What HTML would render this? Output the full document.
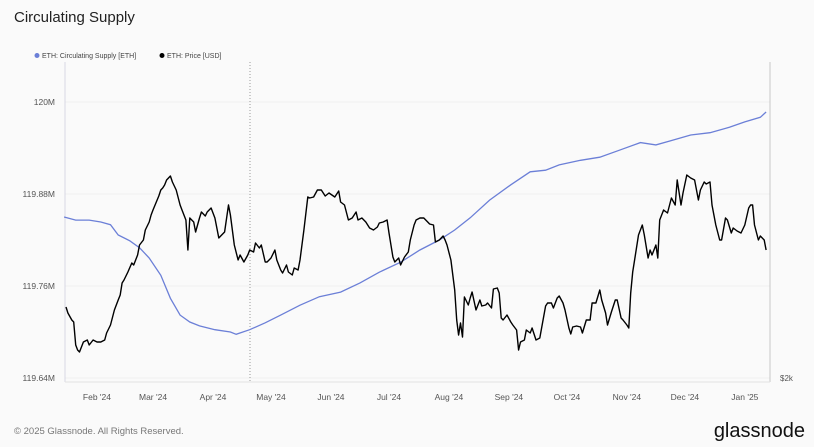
<!DOCTYPE html>
<html><head><meta charset="utf-8"><style>
body{margin:0;background:#fafafa;font-family:"Liberation Sans",sans-serif;}
svg{display:block}
</style></head><body>
<svg width="814" height="447" viewBox="0 0 814 447">
<rect x="0" y="0" width="814" height="447" fill="#fafafa"/>
<text x="14" y="22" font-size="15" fill="#222">Circulating Supply</text>
<g>
<g><circle cx="37" cy="55.5" r="2.5" fill="#6b7fd7"/><text x="42" y="58" font-size="7" fill="#444">ETH: Circulating Supply [ETH]</text></g>
<g><circle cx="162" cy="55.5" r="2.5" fill="#000"/><text x="167" y="58" font-size="7" fill="#444">ETH: Price [USD]</text></g>
</g>
<g id="grid"></g>
<line x1="65" y1="62" x2="65" y2="382" stroke="#d8d8e4"/>
<line x1="770" y1="62" x2="770" y2="382" stroke="#c8c8c8"/>
<line x1="65" y1="382" x2="770" y2="382" stroke="#e2e2e2"/>
<line x1="250" y1="62" x2="250" y2="382" stroke="#999" stroke-dasharray="1,2"/>
<g id="yticks"></g>
<g id="xticks"></g>
<text x="780" y="381" font-size="8" fill="#555">$2k</text>
<path id="supply" fill="none" stroke="#6b7fd7" stroke-width="1.3"/>
<path id="price" fill="none" stroke="#000" stroke-width="1.4" stroke-linejoin="round"/>
<text x="14" y="434" font-size="9.5" fill="#777">© 2025 Glassnode. All Rights Reserved.</text>
<text x="805" y="437" font-size="20" fill="#111" text-anchor="end" font-weight="500">glassnode</text>
</svg>
<script>
const yTickValues=[120,119.88,119.76,119.64];
const yTickLabels=["120M","119.88M","119.76M","119.64M"];
const xTickDays=[31,60,91,121,152,182,213,244,274,305,335,366];
const xTickLabels=["Feb '24","Mar '24","Apr '24","May '24","Jun '24","Jul '24","Aug '24","Sep '24","Oct '24","Nov '24","Dec '24","Jan '25"];
const supplyDays=[14,20,27,33,38,42,48,53,58,64,69,74,79,84,92,100,103,110,118,126,136,146,157,167,177,188,198,208,216,224,234,245,255,263,270,281,291,301,312,320,327,338,348,358,366,374,377];
const supplyValues=[119.850,119.846,119.846,119.8435,119.840,119.8265,119.819,119.810,119.7965,119.774,119.744,119.722,119.713,119.708,119.703,119.700,119.697,119.703,119.712,119.722,119.735,119.746,119.752,119.764,119.778,119.791,119.807,119.820,119.833,119.849,119.872,119.892,119.909,119.911,119.918,119.924,119.928,119.937,119.947,119.944,119.949,119.957,119.960,119.967,119.974,119.980,119.987];
const priceDays=[15,16,18,19,20,21,22,24,26,27,29,31,33,35,36,38,40,42,43,44,45,47,49,50,52,53,55,56,58,59,60,63,64,65,66,67,69,70,72,74,75,77,78,79,81,82,84,85,87,88,90,92,94,95,97,99,100,102,104,105,107,109,110,112,113,115,116,118,119,121,123,124,126,127,129,130,132,133,135,136,138,140,141,143,145,147,149,151,154,156,157,159,161,163,165,166,168,170,172,174,176,177,179,181,182,184,185,187,188,190,192,193,195,196,198,200,202,203,205,206,208,210,211,212,214,216,217,218,219,220,221,223,224,225,227,229,230,232,233,235,236,238,239,240,241,243,245,246,248,249,250,252,253,255,256,258,260,263,264,266,267,269,270,272,273,275,276,277,279,281,282,284,286,287,289,291,292,294,295,297,299,300,302,303,305,306,307,308,309,311,313,314,316,317,318,320,321,322,324,326,328,330,331,333,334,336,338,340,342,343,345,346,348,349,351,353,354,356,357,359,360,362,364,366,368,369,370,371,373,374,376,377];
const priceValues=[2710,2650,2580,2560,2330,2280,2260,2360,2380,2330,2380,2360,2360,2380,2450,2530,2680,2780,2830,2950,2980,3060,3150,3130,3230,3330,3380,3480,3560,3630,3680,3820,3880,3900,3930,3980,4020,3960,3880,3730,3680,3580,3280,3600,3560,3460,3600,3660,3620,3660,3700,3600,3400,3420,3460,3730,3630,3330,3180,3230,3160,3230,3280,3260,3350,3300,3330,3160,3160,3200,3280,3180,3080,3050,3130,3060,3030,3100,3080,3180,3480,3810,3800,3810,3880,3880,3820,3850,3810,3870,3760,3730,3580,3600,3660,3580,3600,3560,3500,3480,3510,3550,3560,3580,3450,3210,3160,3200,3130,3210,3260,3380,3530,3580,3600,3600,3560,3540,3530,3360,3380,3420,3380,3330,3180,2880,2580,2430,2550,2410,2810,2730,2800,2860,2680,2780,2720,2730,2750,2700,2890,2900,2850,2600,2580,2630,2560,2530,2480,2280,2360,2380,2480,2450,2500,2380,2400,2720,2750,2750,2700,2800,2820,2750,2680,2500,2440,2510,2520,2510,2450,2580,2580,2750,2750,2880,2780,2650,2530,2660,2780,2780,2600,2580,2530,2500,2850,3060,3180,3430,3530,3430,3200,3280,3230,3330,3200,3580,3680,3650,3800,3730,3980,3730,3850,4030,4000,3980,3780,3880,3960,3940,3960,3730,3530,3380,3380,3600,3580,3450,3500,3470,3450,3530,3700,3730,3730,3530,3380,3420,3380,3280];
const xS=d=>37+1.934*d;
const yS=v=>378-(v-119.64)/0.12*92;
const pS=p=>378-(p-2000)*0.1;
const NS="http://www.w3.org/2000/svg";
const yt=document.getElementById('yticks'),xt=document.getElementById('xticks'),gr=document.getElementById('grid');
yTickValues.forEach((v,i)=>{
 const t=document.createElementNS(NS,'text');
 t.setAttribute('x',55);t.setAttribute('y',yS(v)+3);t.setAttribute('font-size','8.5');t.setAttribute('fill','#555');t.setAttribute('text-anchor','end');
 
 
 t.textContent=yTickLabels[i];yt.appendChild(t);
 const l=document.createElementNS(NS,'line');
 l.setAttribute('x1',65);l.setAttribute('x2',770);l.setAttribute('y1',yS(v));l.setAttribute('y2',yS(v));l.setAttribute('stroke','#f0f0f0');
 
 
 gr.appendChild(l);
});
xTickDays.forEach((d,i)=>{
 const t=document.createElementNS(NS,'text');
 t.setAttribute('x',xS(d));t.setAttribute('y',400);t.setAttribute('font-size','8.5');t.setAttribute('fill','#555');t.setAttribute('text-anchor','middle');
 
 
 t.textContent=xTickLabels[i];xt.appendChild(t);
});
document.getElementById('supply').setAttribute('d',supplyDays.map((d,i)=>(i?'L':'M')+xS(d).toFixed(1)+','+yS(supplyValues[i]).toFixed(1)).join(''));
document.getElementById('price').setAttribute('d',priceDays.map((d,i)=>(i?'L':'M')+xS(d).toFixed(1)+','+pS(priceValues[i]).toFixed(1)).join(''));
</script>
</body></html>
